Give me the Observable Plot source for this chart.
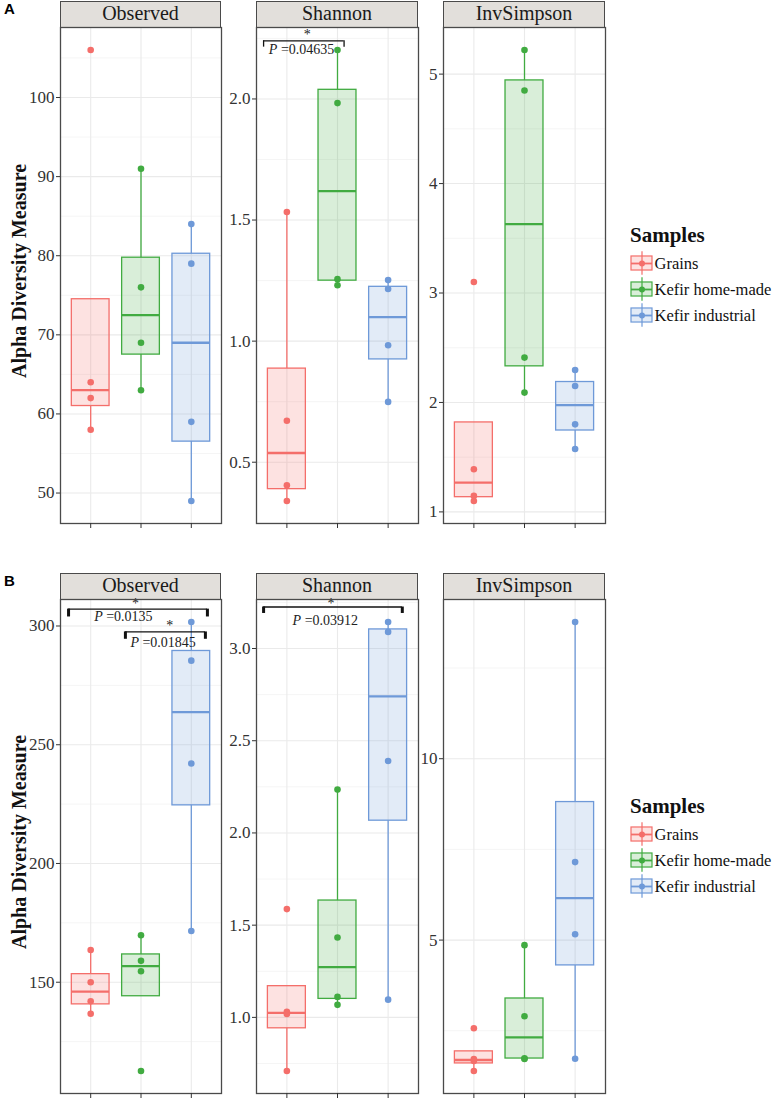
<!DOCTYPE html>
<html>
<head>
<meta charset="utf-8">
<script src="https://cdn.jsdelivr.net/npm/d3@7"></script>
<script src="https://cdn.jsdelivr.net/npm/@observablehq/plot@0.6"></script>
<style>
  body { margin: 0; background: #fff; }
  #root { position: relative; width: 772px; height: 1100px; overflow: hidden; font-family: "Liberation Serif", "Times New Roman", serif; }
  .strip { position: absolute; box-sizing: border-box; border: 1.3px solid #4a4a4a; background: #E2DFDB;
           text-align: center; font-size: 20px; line-height: 23px; color: #1a1a1a; }
  .ytitle { position: absolute; width: 400px; text-align: center; font-weight: bold; font-size: 20px;
            line-height: 24px; color: #111; transform: rotate(-90deg); transform-origin: 50% 50%; }
  .letter { position: absolute; font-family: "Liberation Sans", Arial, sans-serif; font-weight: bold; font-size: 15px; color: #000; }
  .legtitle { position: absolute; font-weight: bold; font-size: 21px; line-height: 24px; color: #111; }
</style>
</head>
<body>
<div id="root"></div>
<script>
// ---------- data ----------
const groups = ["Grains", "Kefir home-made", "Kefir industrial"];
const groupColors = ["#F46E6A", "#41AB41", "#6E99D8"];
const measures = ["Observed", "Shannon", "InvSimpson"];

// Panel A (values per group: Grains, Kefir home-made, Kefir industrial)
const panelA_Observed   = [[106, 64, 62, 58], [91, 76, 69, 63], [84, 79, 59, 49]];
const panelA_Shannon    = [[1.533, 0.671, 0.405, 0.34], [2.202, 1.983, 1.256, 1.231], [1.252, 1.215, 0.983, 0.749]];
const panelA_InvSimpson = [[3.10, 1.39, 1.146, 1.10], [5.22, 4.85, 2.41, 2.09], [2.297, 2.15, 1.80, 1.575]];

// Panel B
const panelB_Observed   = [[163.6, 150, 142, 136.7], [169.8, 159, 154.6, 112.6], [301.7, 285.4, 242.1, 171.6]];
const panelB_Shannon    = [[1.587, 1.03, 1.018, 0.709], [2.235, 1.433, 1.111, 1.068], [3.144, 3.09, 2.39, 1.096]];
const panelB_InvSimpson = [[2.57, 1.72, 1.67, 1.39], [4.86, 2.90, 1.74, 1.72], [13.77, 7.15, 5.16, 1.73]];

// tick labels
const ticksA_Observed   = [50, 60, 70, 80, 90, 100];
const ticksA_Shannon    = [0.5, 1.0, 1.5, 2.0];
const ticksA_InvSimpson = [1, 2, 3, 4, 5];
const ticksB_Observed   = [150, 200, 250, 300];
const ticksB_Shannon    = [1.0, 1.5, 2.0, 2.5, 3.0];
const ticksB_InvSimpson = [5, 10];

// significance annotations (data units)
const sigA_Shannon = [
  {x1: 0.54, x2: 2.13, y: 2.240, yEnd: 2.214, sx: 1.40, sy: 2.268, label: "P =0.04635", lx: 1.29, ly: 2.204}
];
const sigB_Observed = [
  {x1: 0.56, x2: 3.32, y: 307.1, yEnd: 303.8, sx: 1.89, sy: 309.6, label: "P =0.0135", lx: 1.65, ly: 303.9},
  {x1: 1.69, x2: 3.28, y: 297.5, yEnd: 294.4, sx: 2.57, sy: 300.1, label: "P =0.01845", lx: 2.44, ly: 293.2}
];
const sigB_Shannon = [
  {x1: 0.54, x2: 3.28, y: 3.225, yEnd: 3.19, sx: 1.87, sy: 3.245, label: "P =0.03912", lx: 1.76, ly: 3.152}
];

// ---------- layout ----------
const cols = [[60, 221], [256, 418], [443, 605]];
const panels = [
  { letter: "A", stripTop: 1, top: 27, bottom: 523, legendTop: 223, endW: 1.3,
    facets: [
      {values: panelA_Observed, ticks: ticksA_Observed, fmt: d3.format("d"), sig: []},
      {values: panelA_Shannon, ticks: ticksA_Shannon, fmt: d3.format(".1f"), sig: sigA_Shannon},
      {values: panelA_InvSimpson, ticks: ticksA_InvSimpson, fmt: d3.format("d"), sig: []}
    ]},
  { letter: "B", stripTop: 573, top: 599, bottom: 1093, legendTop: 794, endW: 3,
    facets: [
      {values: panelB_Observed, ticks: ticksB_Observed, fmt: d3.format("d"), sig: sigB_Observed},
      {values: panelB_Shannon, ticks: ticksB_Shannon, fmt: d3.format(".1f"), sig: sigB_Shannon},
      {values: panelB_InvSimpson, ticks: ticksB_InvSimpson, fmt: d3.format("d"), sig: []}
    ]}
];

const root = document.getElementById("root");
const ML = 44, MR = 3, MT = 3, MB = 10;

function boxStats(vals) {
  const s = vals.slice().sort(d3.ascending);
  const q1 = d3.quantileSorted(s, 0.25), med = d3.quantileSorted(s, 0.5), q3 = d3.quantileSorted(s, 0.75);
  const iqr = q3 - q1;
  const lo = d3.min(s.filter(v => v >= q1 - 1.5 * iqr));
  const hi = d3.max(s.filter(v => v <= q3 + 1.5 * iqr));
  return {q1, med, q3, lo, hi};
}

function italicP(svg) {
  d3.select(svg).selectAll("text")
    .filter(function() { return /^P =/.test(this.textContent); })
    .each(function() {
      const t = this.textContent;
      const el = d3.select(this);
      el.text(null);
      el.append("tspan").attr("font-style", "italic").text("P");
      el.append("tspan").text(t.slice(1));
    });
}

panels.forEach(panel => {
  const h = panel.bottom - panel.top;

  const L = document.createElement("div");
  L.className = "letter";
  L.textContent = panel.letter;
  L.style.left = "4px";
  L.style.top = (panel.stripTop - 1) + "px";
  root.appendChild(L);

  const yt = document.createElement("div");
  yt.className = "ytitle";
  yt.textContent = "Alpha Diversity Measure";
  const cy = (panel.top + panel.bottom) / 2 - 4;
  yt.style.left = (19 - 200) + "px";
  yt.style.top = (cy - 12) + "px";
  root.appendChild(yt);

  panel.facets.forEach((f, k) => {
    const [left, right] = cols[k];
    const w = right - left;

    const st = document.createElement("div");
    st.className = "strip";
    st.textContent = measures[k];
    st.style.left = left + "px";
    st.style.top = panel.stripTop + "px";
    st.style.width = w + "px";
    st.style.height = (panel.top - panel.stripTop + 1) + "px";
    root.appendChild(st);

    const stats = f.values.map((vals, i) => ({i: i + 1, group: groups[i], ...boxStats(vals)}));
    const pts = f.values.flatMap((vals, i) => vals.map(v => ({i: i + 1, group: groups[i], v})));
    const [lo, hi] = d3.extent(pts, d => d.v);
    const pad = (hi - lo) * 0.05;
    const domain = [lo - pad, hi + pad];
    const step = f.ticks[1] - f.ticks[0];
    const minor = d3.range(f.ticks.length + 1)
      .map(j => f.ticks[0] - step / 2 + j * step)
      .filter(v => v > domain[0] && v < domain[1]);

    const svg = Plot.plot({
      width: ML + w + MR, height: MT + h + MB,
      marginLeft: ML, marginRight: MR, marginTop: MT, marginBottom: MB,
      style: {background: "transparent", overflow: "visible", fontFamily: "Liberation Serif, serif", color: "#333"},
      x: {domain: [0.4, 3.6]},
      y: {domain},
      color: {domain: groups, range: groupColors},
      marks: [
        Plot.ruleY(minor, {stroke: "#F3F3F3", strokeWidth: 0.8}),
        Plot.ruleY(f.ticks, {stroke: "#EAEAEA", strokeWidth: 1.1}),
        Plot.ruleX([1, 2, 3], {stroke: "#EAEAEA", strokeWidth: 1.1}),
        Plot.ruleX(stats.filter(d => d.hi > d.q3), {x: "i", y1: "q3", y2: "hi", stroke: "group", strokeWidth: 1.3}),
        Plot.ruleX(stats.filter(d => d.lo < d.q1), {x: "i", y1: "lo", y2: "q1", stroke: "group", strokeWidth: 1.3}),
        Plot.rect(stats, {x1: d => d.i - 0.375, x2: d => d.i + 0.375, y1: "q1", y2: "q3",
                          fill: "group", fillOpacity: 0.2, stroke: "group", strokeWidth: 1.3}),
        Plot.ruleY(stats, {y: "med", x1: d => d.i - 0.375, x2: d => d.i + 0.375, stroke: "group", strokeWidth: 2.3}),
        Plot.dot(pts, {x: "i", y: "v", r: 3.3, fill: "group"}),
        Plot.ruleY(f.sig, {y: "y", x1: "x1", x2: "x2", stroke: "#111", strokeWidth: 1.3}),
        Plot.ruleX(f.sig, {x: "x1", y1: "yEnd", y2: "y", stroke: "#111", strokeWidth: panel.endW}),
        Plot.ruleX(f.sig, {x: "x2", y1: "yEnd", y2: "y", stroke: "#111", strokeWidth: panel.endW}),
        Plot.text(f.sig, {x: "sx", y: "sy", text: () => "*", fontSize: 14, fill: "#222"}),
        Plot.text(f.sig, {x: "lx", y: "ly", text: "label", fontSize: 14, fill: "#222"}),
        Plot.frame({stroke: "#4a4a4a", strokeWidth: 1.3}),
        Plot.axisY(f.ticks, {tickSize: 4, tickPadding: 2, fontSize: 17, tickFormat: f.fmt, label: null, stroke: "#333"}),
        Plot.axisX([1, 2, 3], {tickSize: 5, tickFormat: () => "", label: null, stroke: "#333"})
      ]
    });
    italicP(svg);
    svg.style.position = "absolute";
    svg.style.left = (left - ML) + "px";
    svg.style.top = (panel.top - MT) + "px";
    root.appendChild(svg);
  });

  // legend
  const lt = document.createElement("div");
  lt.className = "legtitle";
  lt.textContent = "Samples";
  lt.style.left = "630px";
  lt.style.top = panel.legendTop + "px";
  root.appendChild(lt);

  const rows = groups.map((g, i) => ({g, i}));
  const leg = Plot.plot({
    width: 150, height: 78, margin: 0,
    style: {background: "transparent", overflow: "visible", fontFamily: "Liberation Serif, serif", color: "#111"},
    x: {domain: [0, 150], range: [0, 150], axis: null},
    y: {domain: [-0.5, 2.5], range: [0, 78], axis: null},
    color: {domain: groups, range: groupColors},
    marks: [
      Plot.ruleX(rows, {x: 11.5, y1: d => d.i - 0.45, y2: d => d.i + 0.45, stroke: "g", strokeWidth: 1.2}),
      Plot.rect(rows, {x1: 1, x2: 22, y1: d => d.i - 0.27, y2: d => d.i + 0.27, fill: "g", fillOpacity: 0.2, stroke: "g", strokeWidth: 1.2}),
      Plot.ruleY(rows, {y: "i", x1: 1, x2: 22, stroke: "g", strokeWidth: 1.8}),
      Plot.dot(rows, {x: 11.5, y: "i", r: 3, fill: "g"}),
      Plot.text(rows, {x: 24, y: "i", text: "g", textAnchor: "start", fontSize: 16.5, fill: "#111"})
    ]
  });
  leg.style.position = "absolute";
  leg.style.left = "630px";
  leg.style.top = (panel.legendTop + 27) + "px";
  root.appendChild(leg);
});
</script>
</body>
</html>
